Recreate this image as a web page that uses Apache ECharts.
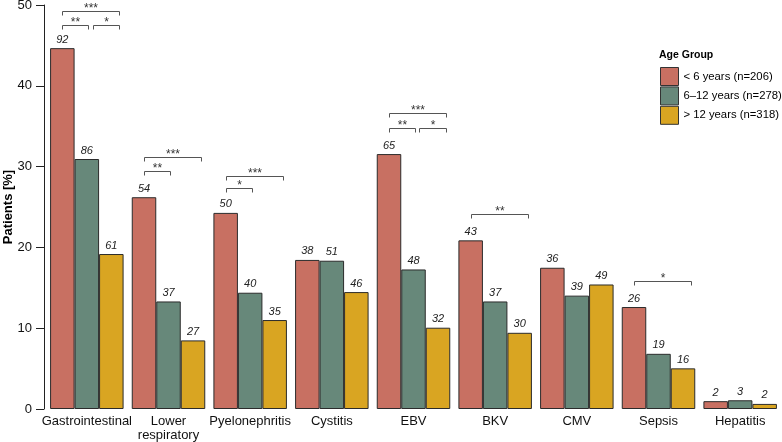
<!DOCTYPE html>
<html>
<head>
<meta charset="utf-8">
<script src="https://cdn.jsdelivr.net/npm/echarts@6/dist/echarts.min.js"></script>
<style>
html,body{margin:0;padding:0;background:#fff;}
#chart{width:782px;height:442px;}
</style>
</head>
<body>
<div id="chart"></div>
<script>
// ---- data ----
const categories = ['Gastrointestinal', 'Lower\nrespiratory', 'Pyelonephritis', 'Cystitis', 'EBV', 'BKV', 'CMV', 'Sepsis', 'Hepatitis'];
const seriesNames = ['< 6 years (n=206)', '6\u201312 years (n=278)', '> 12 years (n=318)'];
// percentages of patients
const pctUnder6 = [44.66, 26.21, 24.27, 18.45, 31.55, 20.87, 17.48, 12.62, 0.97];
const pct6to12 = [30.94, 13.31, 14.39, 18.35, 17.27, 13.31, 14.03, 6.83, 1.08];
const pctOver12 = [19.18, 8.49, 11.01, 14.47, 10.06, 9.43, 15.41, 5.03, 0.63];
// patient counts (bar labels)
const nUnder6 = [92, 54, 50, 38, 65, 43, 36, 26, 2];
const n6to12 = [86, 37, 40, 51, 48, 37, 39, 19, 3];
const nOver12 = [61, 27, 35, 46, 32, 30, 49, 16, 2];
// significance brackets: category index, from group, to group, level (%), label
const bracketCat = [0, 0, 0, 1, 1, 2, 2, 4, 4, 4, 5, 7];
const bracketFrom = [0, 0, 1, 0, 0, 0, 0, 0, 0, 1, 0, 0];
const bracketTo = [2, 1, 2, 2, 1, 2, 1, 2, 1, 2, 2, 2];
const bracketLevel = [49.3, 47.5, 47.5, 31.2, 29.45, 28.8, 27.3, 36.6, 34.75, 34.75, 24.1, 15.9];
const bracketLabel = ['***', '**', '*', '***', '**', '***', '*', '***', '**', '*', '**', '*'];
const yTicks = [0, 10, 20, 30, 40, 50];

const colors = ['#C87062', '#67887A', '#D9A522'];
const countArrays = [nUnder6, n6to12, nOver12];
const pctArrays = [pctUnder6, pct6to12, pctOver12];

const chart = echarts.init(document.getElementById('chart'), null, {renderer: 'canvas'});
const font = 'Liberation Sans, Arial, Helvetica, sans-serif';

const barSeries = pctArrays.map((arr, s) => ({
  name: seriesNames[s],
  type: 'bar',
  data: arr,
  barGap: '0%',
  barCategoryGap: '10%',
  itemStyle: {color: colors[s], borderColor: '#2b2b2b', borderWidth: 1},
  label: {
    show: true,
    position: 'top',
    distance: 3,
    fontFamily: font,
    fontSize: 11,
    fontStyle: 'italic',
    color: '#222',
    formatter: p => String(countArrays[s][p.dataIndex])
  },
  emphasis: {disabled: true},
  animation: false
}));

// slot offsets (in bar widths relative to category center) per group pair
function slotRange(from, to) {
  if (from === 0 && to === 2) return [-1.0, 1.33];
  if (from === 0 && to === 1) return [-1.0, 0.06];
  return [0.24, 1.33];
}

const bracketSeries = {
  type: 'custom',
  silent: true,
  clip: false,
  z: 10,
  animation: false,
  data: bracketCat.map((c, i) => [c, bracketLevel[i]]),
  renderItem: function (params, api) {
    const i = params.dataIndex;
    const c = api.coord([api.value(0), api.value(1)]);
    const band = api.size([1, 0])[0];
    const slot = band * 0.9 / 3;
    const r = slotRange(bracketFrom[i], bracketTo[i]);
    const x1 = Math.round(c[0] + r[0] * slot) + 0.5;
    const x2 = Math.round(c[0] + r[1] * slot) + 0.5;
    const y = Math.round(c[1]) + 0.5;
    return {
      type: 'group',
      children: [
        {
          type: 'polyline',
          shape: {points: [[x1, y + 4], [x1, y], [x2, y], [x2, y + 4]]},
          style: {stroke: '#555', lineWidth: 1, fill: null}
        },
        {
          type: 'text',
          style: {
            text: bracketLabel[i],
            x: (x1 + x2) / 2,
            y: y + 3,
            textAlign: 'center',
            textVerticalAlign: 'bottom',
            font: '12px ' + font,
            fill: '#333'
          }
        }
      ]
    };
  }
};

chart.setOption({
  backgroundColor: '#fff',
  animation: false,
  title: {
    text: 'Age Group',
    left: 659,
    top: 50,
    padding: 0,
    textStyle: {fontFamily: font, fontSize: 10.5, fontWeight: 'bold', color: '#000'}
  },
  legend: {
    data: seriesNames,
    orient: 'vertical',
    left: 660,
    top: 67,
    padding: 0,
    itemWidth: 18,
    itemHeight: 18,
    itemGap: 0.4,
    icon: 'rect',
    itemStyle: {borderColor: '#333', borderWidth: 1},
    textStyle: {fontFamily: font, fontSize: 11.3, color: '#000'},
    selectedMode: false
  },
  grid: {left: 46, right: 1, top: 5, bottom: 33, containLabel: false, outerBoundsMode: 'none'},
  xAxis: {
    type: 'category',
    data: categories,
    axisLine: {show: false},
    axisTick: {show: false},
    axisLabel: {
      interval: 0,
      margin: 5,
      fontFamily: font,
      fontSize: 13,
      lineHeight: 14,
      color: '#111'
    }
  },
  yAxis: {
    type: 'value',
    min: yTicks[0],
    max: yTicks[yTicks.length - 1],
    interval: 10,
    offset: 2,
    name: 'Patients [%]',
    nameLocation: 'middle',
    nameGap: 36,
    nameMoveOverlap: false,
    nameTextStyle: {fontFamily: font, fontSize: 13, fontWeight: 'bold', color: '#000', verticalAlign: 'middle'},
    axisLine: {show: true, lineStyle: {color: '#222', width: 1}},
    axisTick: {show: true, length: 8, lineStyle: {color: '#222'}},
    splitLine: {show: false},
    axisLabel: {margin: 12, fontFamily: font, fontSize: 13, color: '#111'}
  },
  series: barSeries.concat([bracketSeries])
});
</script>
</body>
</html>
